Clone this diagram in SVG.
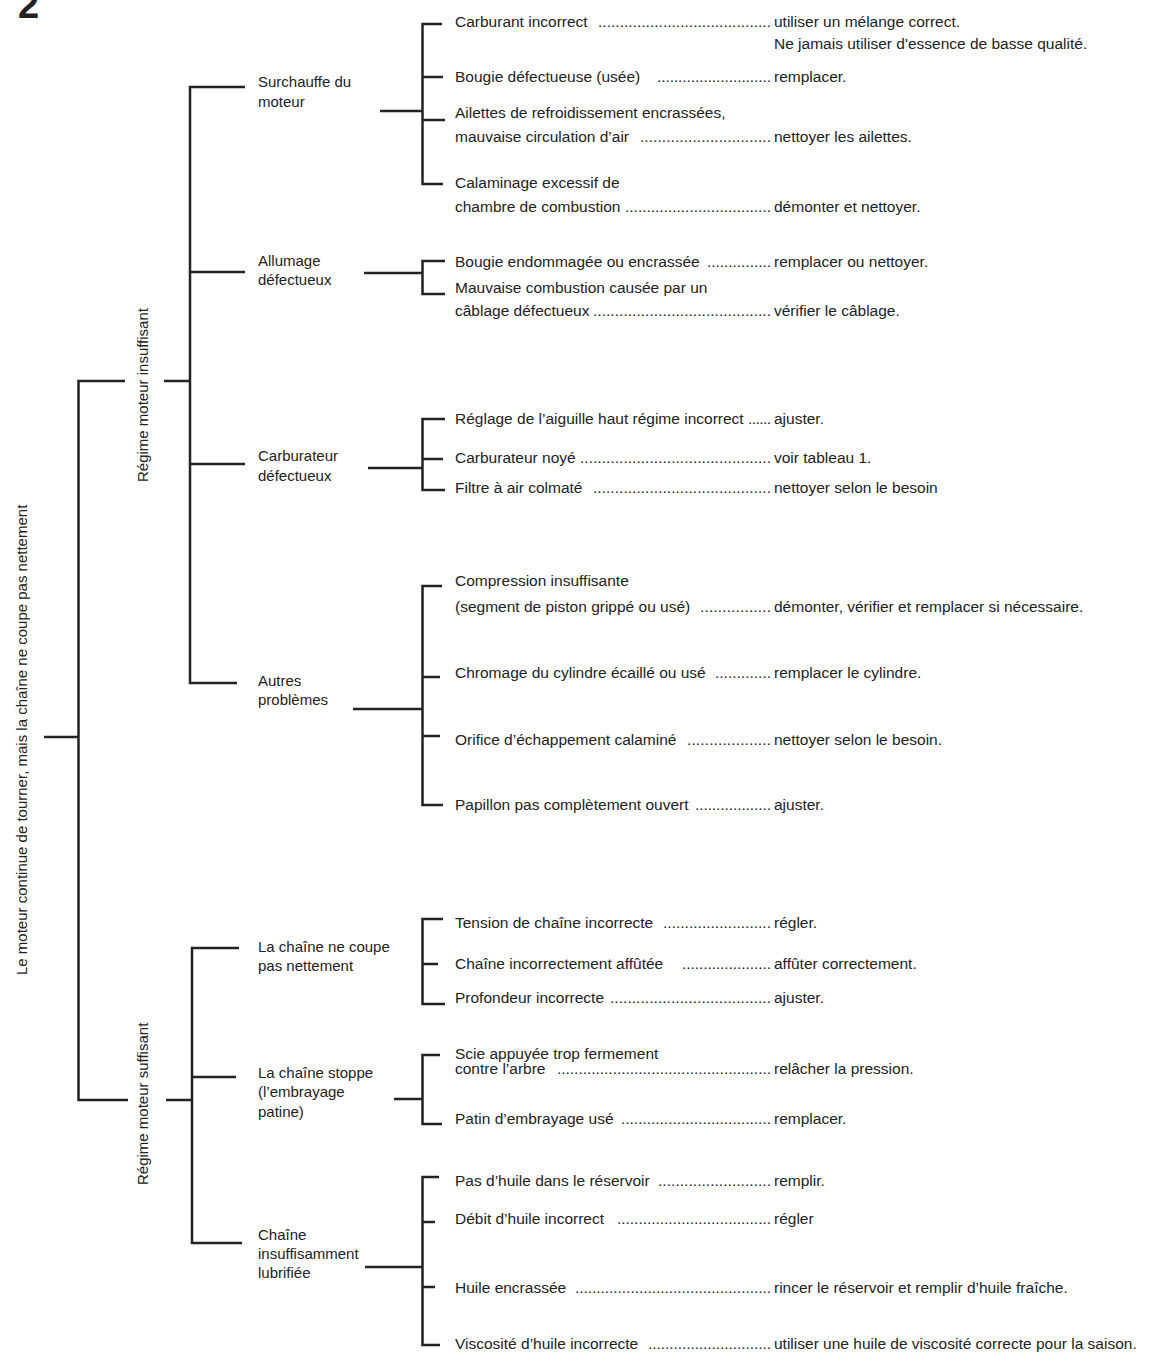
<svg xmlns="http://www.w3.org/2000/svg" width="1153" height="1362" viewBox="0 0 1153 1362">
<style>
text{font-family:"Liberation Sans",Arial,sans-serif;fill:#222}
.t3{font-size:15.5px}
.t2{font-size:15px}
.rot{font-size:15px}
.ln{stroke:#222;stroke-width:2.5;fill:none}
</style>
<rect width="1153" height="1362" fill="#fff"/>
<text x="18" y="18" style="font-size:38px;font-weight:bold">2</text>

<g id="connectors">
<path class="ln" d="M44 737H78.5M125 381H78.5V1100H128M164 381H190M166 1100H192"/>
<path class="ln" d="M245 87H190V683H237M190 272H245M190 464H245"/>
<path class="ln" d="M239 948H192V1243H242M192 1077H236"/>
<path class="ln" d="M442 24H422.5V184H443M422.5 77H443M422.5 120H445M380 111H422.5"/>
<path class="ln" d="M445 261H422.5V294H445M364 273H422.5"/>
<path class="ln" d="M445 419H422.5V490H445M422.5 459H443M368 468H422.5"/>
<path class="ln" d="M442 586H422.5V805H443M422.5 677H440M422.5 736H440M353 709H422.5"/>
<path class="ln" d="M443 919H422.5V1004H445M422.5 964H438"/>
<path class="ln" d="M440 1055H422.5V1124H442M394 1099H422.5"/>
<path class="ln" d="M439 1177H422.5V1345H440M422.5 1222H435M422.5 1287H435M365 1267H422.5"/>
</g>

<g id="root"><text class="rot" transform="translate(26.5,975) rotate(-90)">Le moteur continue de tourner, mais la chaîne ne coupe pas nettement</text></g>
<g id="regime-insuffisant"><text class="rot" transform="translate(148,482) rotate(-90)">Régime moteur insuffisant</text></g>
<g id="regime-suffisant"><text class="rot" transform="translate(148,1185) rotate(-90)">Régime moteur suffisant</text></g>

<g id="surchauffe" class="t2"><text x="258" y="87">Surchauffe du</text><text x="258" y="107">moteur</text></g>
<g id="allumage" class="t2"><text x="258" y="266">Allumage</text><text x="258" y="285">défectueux</text></g>
<g id="carburateur" class="t2"><text x="258" y="461">Carburateur</text><text x="258" y="481">défectueux</text></g>
<g id="autres" class="t2"><text x="258" y="686">Autres</text><text x="258" y="705">problèmes</text></g>
<g id="coupe" class="t2"><text x="258" y="952">La chaîne ne coupe</text><text x="258" y="971">pas nettement</text></g>
<g id="stoppe" class="t2"><text x="258" y="1078">La chaîne stoppe</text><text x="258" y="1097">(l’embrayage</text><text x="258" y="1117">patine)</text></g>
<g id="lubrif" class="t2"><text x="258" y="1240">Chaîne</text><text x="258" y="1259">insuffisamment</text><text x="258" y="1278">lubrifiée</text></g>

<g id="c1" class="t3"><text x="455" y="27">Carburant incorrect</text><text x="598" y="27" textLength="173" lengthAdjust="spacing">........................................</text><text x="774" y="27">utiliser un mélange correct.</text><text x="774" y="49">Ne jamais utiliser d'essence de basse qualité.</text></g>
<g id="c2" class="t3"><text x="455" y="82">Bougie défectueuse (usée)</text><text x="657" y="82" textLength="114" lengthAdjust="spacing">...........................</text><text x="774" y="82">remplacer.</text></g>
<g id="c3" class="t3"><text x="455" y="118">Ailettes de refroidissement encrassées,</text><text x="455" y="142">mauvaise circulation d’air</text><text x="640" y="142" textLength="131" lengthAdjust="spacing">..............................</text><text x="774" y="142">nettoyer les ailettes.</text></g>
<g id="c4" class="t3"><text x="455" y="188">Calaminage excessif de</text><text x="455" y="212">chambre de combustion</text><text x="625" y="212" textLength="146" lengthAdjust="spacing">..................................</text><text x="774" y="212">démonter et nettoyer.</text></g>

<g id="c5" class="t3"><text x="455" y="267">Bougie endommagée ou encrassée</text><text x="707" y="267" textLength="64" lengthAdjust="spacing">...............</text><text x="774" y="267">remplacer ou nettoyer.</text></g>
<g id="c6" class="t3"><text x="455" y="293">Mauvaise combustion causée par un</text><text x="455" y="316">câblage défectueux</text><text x="593" y="316" textLength="178" lengthAdjust="spacing">.........................................</text><text x="774" y="316">vérifier le câblage.</text></g>

<g id="c7" class="t3"><text x="455" y="424">Réglage de l’aiguille haut régime incorrect</text><text x="748" y="424" textLength="23" lengthAdjust="spacing">......</text><text x="774" y="424">ajuster.</text></g>
<g id="c8" class="t3"><text x="455" y="463">Carburateur noyé</text><text x="580" y="463" textLength="191" lengthAdjust="spacing">............................................</text><text x="774" y="463">voir tableau 1.</text></g>
<g id="c9" class="t3"><text x="455" y="493">Filtre à air colmaté</text><text x="593" y="493" textLength="178" lengthAdjust="spacing">.........................................</text><text x="774" y="493">nettoyer selon le besoin</text></g>

<g id="c10" class="t3"><text x="455" y="586">Compression insuffisante</text><text x="455" y="612">(segment de piston grippé ou usé)</text><text x="700" y="612" textLength="71" lengthAdjust="spacing">................</text><text x="774" y="612">démonter, vérifier et remplacer si nécessaire.</text></g>
<g id="c11" class="t3"><text x="455" y="678">Chromage du cylindre écaillé ou usé</text><text x="715" y="678" textLength="56" lengthAdjust="spacing">.............</text><text x="774" y="678">remplacer le cylindre.</text></g>
<g id="c12" class="t3"><text x="455" y="745">Orifice d’échappement calaminé</text><text x="687" y="745" textLength="84" lengthAdjust="spacing">...................</text><text x="774" y="745">nettoyer selon le besoin.</text></g>
<g id="c13" class="t3"><text x="455" y="810">Papillon pas complètement ouvert</text><text x="695" y="810" textLength="76" lengthAdjust="spacing">..................</text><text x="774" y="810">ajuster.</text></g>

<g id="c14" class="t3"><text x="455" y="928">Tension de chaîne incorrecte</text><text x="663" y="928" textLength="108" lengthAdjust="spacing">.........................</text><text x="774" y="928">régler.</text></g>
<g id="c15" class="t3"><text x="455" y="969">Chaîne incorrectement affûtée</text><text x="682" y="969" textLength="89" lengthAdjust="spacing">.....................</text><text x="774" y="969">affûter correctement.</text></g>
<g id="c16" class="t3"><text x="455" y="1003">Profondeur incorrecte</text><text x="610" y="1003" textLength="161" lengthAdjust="spacing">.....................................</text><text x="774" y="1003">ajuster.</text></g>

<g id="c17" class="t3"><text x="455" y="1059">Scie appuyée trop fermement</text><text x="455" y="1074">contre l’arbre</text><text x="557" y="1074" textLength="214" lengthAdjust="spacing">..................................................</text><text x="774" y="1074">relâcher la pression.</text></g>
<g id="c18" class="t3"><text x="455" y="1124">Patin d’embrayage usé</text><text x="621" y="1124" textLength="150" lengthAdjust="spacing">...................................</text><text x="774" y="1124">remplacer.</text></g>

<g id="c19" class="t3"><text x="455" y="1186">Pas d’huile dans le réservoir</text><text x="658" y="1186" textLength="113" lengthAdjust="spacing">..........................</text><text x="774" y="1186">remplir.</text></g>
<g id="c20" class="t3"><text x="455" y="1224">Débit d’huile incorrect</text><text x="617" y="1224" textLength="154" lengthAdjust="spacing">....................................</text><text x="774" y="1224">régler</text></g>
<g id="c21" class="t3"><text x="455" y="1293">Huile encrassée</text><text x="575" y="1293" textLength="196" lengthAdjust="spacing">..............................................</text><text x="774" y="1293">rincer le réservoir et remplir d’huile fraîche.</text></g>
<g id="c22" class="t3"><text x="455" y="1349">Viscosité d’huile incorrecte</text><text x="648" y="1349" textLength="123" lengthAdjust="spacing">.............................</text><text x="774" y="1349">utiliser une huile de viscosité correcte pour la saison.</text></g>
</svg>
